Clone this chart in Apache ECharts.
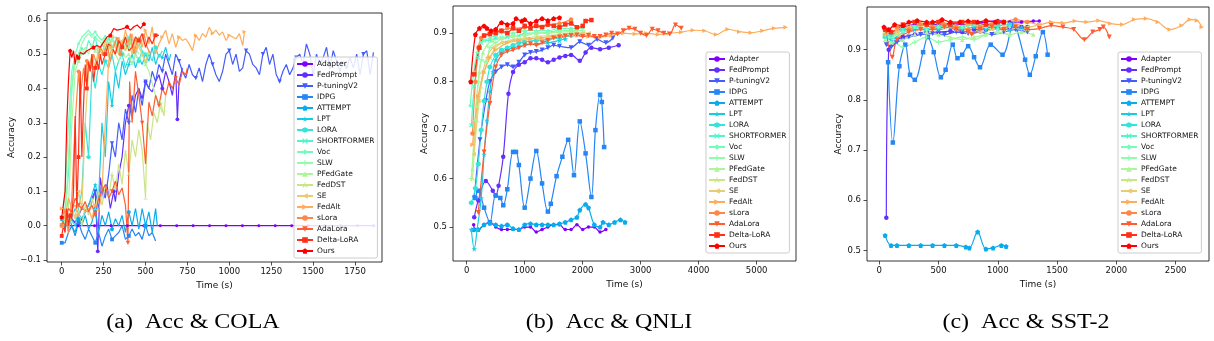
<!DOCTYPE html>
<html><head><meta charset="utf-8">
<script src="https://cdn.jsdelivr.net/npm/echarts@6/dist/echarts.min.js"></script>
<style>html,body{margin:0;padding:0;background:#fff}#c{width:1214px;height:341px}</style>
</head><body><div id="c"></div>
<script>
// ---------- labels ----------
const methods = ['Adapter','FedPrompt','P-tuningV2','IDPG','ATTEMPT','LPT','LORA','SHORTFORMER','Voc','SLW','PFedGate','FedDST','SE','FedAlt','sLora','AdaLora','Delta-LoRA','Ours'];
const captions = ['(a)  Acc & COLA','(b)  Acc & QNLI','(c)  Acc & SST-2'];
const colaXTicks = [0,250,500,750,1000,1250,1500,1750];
const colaYTicks = [-0.1,0.0,0.1,0.2,0.3,0.4,0.5,0.6];
const qnliXTicks = [0,1000,2000,3000,4000,5000];
const qnliYTicks = [0.5,0.6,0.7,0.8,0.9];
const sstXTicks = [0,500,1000,1500,2000,2500];
const sstYTicks = [0.5,0.6,0.7,0.8,0.9];

// ---------- (a) COLA ----------
const colaAdapter = [[0,0],[98,0],[196,0],[294,0],[392,0],[490,0],[588,0],[686,0],[784,0],[882,0],[980,0],[1078,0],[1176,0],[1274,0],[1372,0],[1470,0],[1568,0],[1666,0],[1764,0],[1862,0]];
const colaFedPrompt = [[0,0.0],[50,0.02],[100,0.0],[150,0.05],[200,0.1],[215,-0.075],[230,0.14],[250,0.08],[270,0.12],[290,0.05],[310,0.1],[320,0.07],[340,0.15],[360,0.2],[380,0.3],[400,0.35],[420,0.32],[440,0.38],[460,0.4],[480,0.37],[500,0.42],[520,0.4],[540,0.39],[560,0.42],[580,0.44],[600,0.4],[620,0.45],[640,0.42],[660,0.38],[680,0.45],[690,0.31],[700,0.42],[720,0.46]];
const colaPtuning = [[0,0.0],[40,0.03],[80,0.01],[120,0.05],[160,0.04],[200,0.1],[220,0.05],[240,0.12],[260,0.08],[280,0.15],[300,0.24],[320,0.2],[340,0.3],[360,0.25],[380,0.34],[400,0.3],[420,0.38],[440,0.33],[460,0.4],[480,0.35],[500,0.42],[520,0.4],[540,0.45],[560,0.42],[580,0.47],[600,0.45],[620,0.5],[640,0.47],[660,0.44],[680,0.5],[700,0.48],[720,0.45],[740,0.43],[760,0.47],[780,0.44],[800,0.43],[820,0.46],[840,0.42],[860,0.47],[880,0.5],[900,0.47],[920,0.44],[940,0.42],[960,0.45],[980,0.5],[1000,0.51],[1020,0.47],[1040,0.5],[1060,0.45],[1080,0.46],[1100,0.51],[1120,0.5],[1140,0.47],[1160,0.46],[1180,0.44],[1200,0.5],[1220,0.52],[1240,0.47],[1260,0.5],[1280,0.44],[1300,0.42],[1320,0.45],[1340,0.47],[1360,0.44],[1380,0.46],[1400,0.49],[1420,0.5],[1440,0.47],[1460,0.53],[1480,0.5],[1500,0.44],[1520,0.5],[1540,0.47],[1560,0.49],[1580,0.52],[1600,0.46],[1620,0.51],[1640,0.48],[1660,0.45],[1680,0.48],[1700,0.46],[1720,0.49],[1740,0.46],[1760,0.5],[1780,0.44],[1800,0.5],[1820,0.51],[1840,0.44],[1860,0.505]];
const colaIDPG = [[0,-0.05],[20,-0.05],[40,-0.02],[60,0.0],[80,-0.03],[100,0.01],[120,-0.02],[140,-0.04],[160,-0.01],[180,-0.03],[200,-0.05],[220,-0.02],[240,-0.06],[260,-0.03],[280,-0.01],[300,-0.04],[320,-0.03],[340,-0.02],[360,0.0],[380,-0.04],[400,-0.03],[420,-0.01],[440,-0.03],[460,-0.02],[480,-0.04],[500,0.0],[520,-0.03],[540,-0.02],[560,-0.045]];
const colaATTEMPT = [[0,0.02],[20,-0.01],[40,0.03],[60,0.0],[80,-0.02],[100,0.02],[120,0.0],[140,0.03],[160,-0.01],[180,0.01],[200,0.05],[220,-0.02],[240,0.03],[260,0.0],[280,0.04],[300,-0.01],[320,0.02],[340,0.0],[360,0.03],[380,-0.02],[400,0.04],[420,0.0],[440,0.05],[460,-0.01],[480,0.05],[500,0.0],[520,0.04],[540,-0.02],[560,0.05],[570,0.0]];
const colaLPT = [[0,0.02],[40,0.0],[80,0.05],[120,0.02],[160,0.06],[200,0.12],[220,0.08],[240,0.3],[260,0.2],[280,0.42],[300,0.35],[320,0.45],[340,0.4],[360,0.48],[380,0.44],[400,0.47],[420,0.5],[440,0.46],[460,0.49],[480,0.47],[500,0.5],[520,0.48],[540,0.52],[560,0.47],[580,0.5],[600,0.49],[620,0.52],[640,0.48],[650,0.5]];
const colaLORA = [[0,0.0],[40,0.03],[80,0.0],[120,0.1],[140,0.3],[160,0.2],[180,0.45],[200,0.4],[220,0.47],[240,0.44],[260,0.48],[280,0.46],[300,0.5],[320,0.45],[340,0.48],[360,0.5],[380,0.46],[400,0.49],[420,0.47],[440,0.5],[460,0.48],[480,0.51],[500,0.47],[520,0.5],[540,0.48],[560,0.52],[580,0.49],[600,0.51]];
const colaSHORTFORMER = [[0,0.02],[20,0.05],[40,0.15],[60,0.4],[80,0.5],[100,0.48],[120,0.52],[140,0.5],[160,0.54],[180,0.52],[200,0.55],[220,0.5],[240,0.53],[260,0.51],[280,0.55],[300,0.52],[320,0.54],[340,0.5],[360,0.53],[380,0.51],[400,0.55],[420,0.52],[440,0.5],[460,0.53],[480,0.51],[500,0.5]];
const colaVoc = [[0,0.0],[20,0.1],[40,0.3],[60,0.45],[80,0.5],[100,0.53],[120,0.55],[140,0.56],[160,0.57],[180,0.555],[200,0.565],[220,0.55],[240,0.54],[260,0.555],[280,0.53],[300,0.545],[320,0.55],[340,0.53],[360,0.54],[380,0.55],[400,0.52],[420,0.545],[440,0.53],[460,0.55],[480,0.52]];
const colaSLW = [[0,0.03],[20,0.0],[40,0.2],[60,0.4],[80,0.48],[100,0.5],[120,0.53],[140,0.55],[160,0.56],[180,0.55],[200,0.545],[220,0.54],[240,0.53],[260,0.55],[280,0.52],[300,0.54],[320,0.53],[340,0.51],[360,0.54],[380,0.52],[400,0.53],[420,0.5],[440,0.52],[460,0.5]];
const colaPFedGate = [[0,0.0],[20,0.02],[40,0.05],[60,0.3],[80,0.45],[100,0.48],[120,0.5],[140,0.52],[160,0.5],[180,0.53],[200,0.51],[220,0.52],[240,0.5],[260,0.53],[280,0.49],[300,0.52],[320,0.5],[340,0.48],[360,0.51],[380,0.49],[400,0.5],[420,0.47],[440,0.5],[460,0.48],[480,0.5],[500,0.47],[520,0.45],[560,0.38],[600,0.33]];
const colaFedDST = [[0,0.0],[20,0.03],[40,0.01],[60,0.05],[80,0.02],[100,0.04],[120,0.0],[140,0.06],[160,0.03],[180,0.08],[200,0.05],[220,0.1],[240,0.06],[260,0.12],[280,0.08],[300,0.15],[320,0.1],[340,0.18],[360,0.12],[380,0.22],[400,0.15],[420,0.25],[440,0.2],[460,0.28],[480,0.22],[500,0.08],[510,0.3],[530,0.25],[550,0.33],[570,0.3],[590,0.36],[610,0.32],[620,0.38]];
const colaSE = [[0,0.0],[20,0.03],[40,-0.02],[60,0.05],[80,0.02],[100,0.1],[120,0.05],[140,0.3],[160,0.45],[180,0.5],[200,0.46],[220,0.52],[240,0.5],[260,0.54],[280,0.51],[300,0.55],[320,0.52],[340,0.5],[360,0.54],[380,0.51],[400,0.53],[420,0.5],[440,0.55],[460,0.52],[480,0.5],[500,0.48],[520,0.51]];
const colaFedAlt = [[0,0.05],[20,0.02],[40,0.08],[60,0.05],[80,0.06],[100,0.03],[120,0.06],[140,0.04],[160,0.05],[180,0.02],[200,0.06],[220,0.04],[240,0.1],[260,0.3],[280,0.48],[300,0.52],[320,0.5],[340,0.55],[360,0.52],[380,0.57],[400,0.53],[420,0.56],[440,0.5],[460,0.55],[480,0.52],[500,0.57],[520,0.53],[540,0.58],[560,0.5],[580,0.53],[600,0.55],[620,0.57],[640,0.53],[660,0.56],[680,0.52],[700,0.55],[720,0.54],[740,0.545],[760,0.53],[780,0.51],[800,0.555],[820,0.54],[840,0.56],[860,0.55],[880,0.578],[900,0.56],[920,0.57],[940,0.555],[960,0.565],[980,0.54],[1000,0.555],[1020,0.55],[1040,0.545],[1060,0.56],[1080,0.525],[1090,0.565]];
const colaSLora = [[0,0.0],[20,0.05],[40,-0.02],[60,0.08],[80,0.3],[100,0.45],[110,0.37],[120,0.37],[130,0.46],[140,0.42],[150,0.48],[170,0.45],[190,0.5],[210,0.47],[230,0.52],[250,0.5],[270,0.53],[290,0.48],[310,0.52],[330,0.55],[350,0.5],[370,0.54],[390,0.52],[410,0.56],[430,0.5],[450,0.54],[470,0.53],[490,0.56],[510,0.52],[530,0.5]];
const colaAdaLora = [[0,0.02],[20,0.0],[40,0.05],[60,0.04],[80,0.08],[100,0.06],[120,0.05],[140,0.07],[160,0.04],[180,0.06],[200,0.03],[220,0.08],[240,0.1],[260,0.12],[280,0.08],[300,0.1],[320,0.13],[340,0.09],[360,0.11],[380,0.06],[395,-0.05],[405,0.42],[420,0.3],[440,0.45],[460,0.38],[480,0.3],[500,0.18],[520,0.36],[540,0.32],[560,0.38],[580,0.35],[600,0.4],[620,0.38],[640,0.42],[660,0.4],[680,0.43],[700,0.41],[720,0.45],[740,0.44],[750,0.46]];
const colaDeltaLoRA = [[0,-0.03],[10,0.0],[20,-0.02],[30,0.05],[40,0.0],[50,0.03],[60,0.02],[70,0.1],[80,0.32],[90,0.05],[100,0.2],[110,0.45],[120,0.2],[130,0.35],[140,0.47],[150,0.4],[160,0.48],[170,0.45],[180,0.5],[190,0.42],[200,0.46],[210,0.48],[220,0.455],[230,0.5],[240,0.47],[260,0.5],[280,0.53],[300,0.52],[320,0.5],[340,0.54],[360,0.52],[380,0.55],[400,0.51],[420,0.52],[440,0.55],[460,0.54],[480,0.56],[500,0.52],[520,0.55],[540,0.53],[560,0.555],[580,0.555]];
const colaOurs = [[0,0.025],[10,0.02],[20,0.1],[30,0.3],[40,0.42],[50,0.51],[60,0.49],[70,0.51],[80,0.47],[90,0.5],[100,0.49],[110,0.505],[130,0.5],[150,0.51],[170,0.515],[190,0.52],[210,0.525],[230,0.52],[250,0.535],[270,0.55],[290,0.555],[310,0.575],[330,0.57],[350,0.572],[370,0.575],[390,0.58],[410,0.57],[430,0.58],[450,0.585],[470,0.575],[490,0.588],[500,0.585]];

// ---------- (b) QNLI ----------
const qnliAdapter = [[120,0.505],[150,0.495],[200,0.495],[300,0.505],[400,0.51],[500,0.5],[600,0.495],[700,0.495],[800,0.495],[900,0.495],[1000,0.5],[1100,0.5],[1200,0.49],[1300,0.495],[1400,0.5],[1500,0.505],[1600,0.505],[1700,0.495],[1800,0.495],[1900,0.505],[2000,0.495],[2100,0.5],[2200,0.5],[2300,0.49],[2400,0.495]];
const qnliFedPrompt = [[130,0.52],[200,0.555],[330,0.595],[450,0.575],[500,0.565],[550,0.585],[630,0.645],[720,0.775],[800,0.82],[900,0.835],[1000,0.84],[1100,0.848],[1200,0.848],[1300,0.845],[1400,0.84],[1500,0.845],[1600,0.85],[1700,0.853],[1800,0.855],[1950,0.843],[2050,0.86],[2150,0.87],[2300,0.867],[2450,0.87],[2620,0.875]];
const qnliPtuning = [[130,0.56],[230,0.68],[330,0.76],[400,0.8],[500,0.82],[600,0.83],[700,0.835],[800,0.83],[900,0.84],[1000,0.855],[1100,0.86],[1200,0.862],[1300,0.865],[1400,0.87],[1500,0.875],[1600,0.873],[1800,0.87],[1950,0.882],[2100,0.875],[2250,0.887],[2400,0.88],[2520,0.89]];
const qnliIDPG = [[150,0.56],[200,0.575],[300,0.54],[400,0.51],[500,0.565],[580,0.56],[630,0.545],[700,0.578],[800,0.655],[850,0.655],[900,0.628],[1000,0.54],[1100,0.6],[1200,0.657],[1300,0.59],[1400,0.532],[1450,0.548],[1550,0.605],[1650,0.645],[1750,0.68],[1850,0.607],[1950,0.718],[2050,0.652],[2150,0.562],[2220,0.7],[2300,0.773],[2330,0.758],[2370,0.665]];
const qnliATTEMPT = [[120,0.495],[200,0.495],[300,0.505],[400,0.508],[500,0.505],[600,0.502],[700,0.505],[800,0.497],[900,0.495],[1000,0.505],[1100,0.507],[1200,0.505],[1300,0.505],[1400,0.505],[1500,0.505],[1600,0.507],[1700,0.51],[1800,0.515],[1900,0.52],[1950,0.535],[2050,0.547],[2100,0.54],[2200,0.505],[2300,0.5],[2350,0.51],[2450,0.505],[2550,0.51],[2650,0.515],[2730,0.51]];
const qnliLPT = [[80,0.495],[130,0.455],[180,0.495],[250,0.56],[300,0.65],[350,0.72],[400,0.78],[450,0.82],[500,0.845],[600,0.86],[700,0.865],[800,0.87],[900,0.872],[1000,0.875],[1200,0.878],[1400,0.88],[1600,0.885],[1700,0.888]];
const qnliLORA = [[80,0.55],[150,0.58],[200,0.63],[250,0.7],[300,0.76],[350,0.8],[400,0.83],[500,0.855],[600,0.865],[700,0.87],[800,0.875],[900,0.88],[1000,0.882],[1200,0.885],[1400,0.887],[1600,0.89],[1800,0.895],[2000,0.897]];
const qnliSHORTFORMER = [[80,0.71],[130,0.79],[200,0.85],[250,0.88],[300,0.885],[400,0.885],[500,0.89],[600,0.89],[700,0.892],[800,0.895],[900,0.895],[1000,0.9],[1200,0.9],[1400,0.902],[1600,0.905],[1800,0.905]];
const qnliVoc = [[60,0.75],[120,0.82],[180,0.86],[250,0.88],[300,0.885],[400,0.89],[500,0.895],[600,0.9],[800,0.9],[1000,0.905],[1200,0.905],[1400,0.905],[1600,0.91],[1800,0.91],[2000,0.91]];
const qnliSLW = [[80,0.6],[150,0.72],[200,0.8],[260,0.845],[330,0.84],[400,0.87],[500,0.88],[600,0.888],[800,0.893],[1000,0.897],[1200,0.9],[1400,0.9],[1600,0.905],[1800,0.905],[2000,0.905]];
const qnliPFedGate = [[100,0.62],[160,0.75],[220,0.82],[280,0.86],[350,0.875],[450,0.885],[600,0.89],[800,0.895],[1000,0.895],[1200,0.9],[1400,0.9],[1600,0.902],[1800,0.903],[1900,0.905]];
const qnliFedDST = [[100,0.6],[180,0.72],[250,0.79],[300,0.82],[400,0.85],[500,0.87],[600,0.88],[800,0.887],[1000,0.89],[1200,0.893],[1400,0.895],[1600,0.897],[1800,0.9],[2000,0.9]];
const qnliSE = [[120,0.65],[200,0.76],[280,0.82],[350,0.85],[450,0.87],[600,0.88],[800,0.885],[1000,0.888],[1200,0.89],[1400,0.892],[1600,0.895],[1800,0.897],[2000,0.9],[2100,0.9]];
const qnliFedAlt = [[100,0.67],[200,0.77],[300,0.82],[400,0.85],[500,0.865],[700,0.88],[900,0.885],[1100,0.888],[1300,0.89],[1500,0.893],[1700,0.895],[1900,0.895],[2100,0.893],[2300,0.892],[2500,0.895],[2700,0.9],[2900,0.898],[3100,0.9],[3300,0.897],[3500,0.9],[3700,0.902],[3900,0.906],[4100,0.905],[4300,0.897],[4500,0.908],[4700,0.903],[4900,0.901],[5100,0.905],[5300,0.91],[5500,0.912]];
const qnliSLora = [[100,0.693],[150,0.8],[200,0.87],[250,0.89],[300,0.895],[400,0.9],[500,0.905],[600,0.905],[700,0.91],[800,0.91],[1000,0.912],[1200,0.915],[1400,0.917],[1600,0.92],[1800,0.928]];
const qnliAdaLora = [[200,0.53],[300,0.655],[400,0.755],[500,0.83],[600,0.855],[700,0.862],[800,0.865],[900,0.87],[1000,0.875],[1100,0.878],[1200,0.875],[1300,0.88],[1400,0.885],[1500,0.89],[1600,0.892],[1700,0.894],[1800,0.895],[1900,0.896],[2000,0.893],[2100,0.895],[2200,0.893],[2300,0.893],[2400,0.896],[2500,0.9],[2600,0.898],[2700,0.905],[2800,0.91],[2900,0.908],[3000,0.9],[3100,0.895],[3200,0.908],[3300,0.905],[3400,0.9],[3500,0.898],[3600,0.917],[3700,0.91]];
const qnliDeltaLoRA = [[130,0.815],[220,0.87],[300,0.895],[400,0.898],[500,0.9],[600,0.905],[700,0.9],[800,0.91],[900,0.905],[1000,0.915],[1100,0.91],[1200,0.915],[1300,0.912],[1400,0.918],[1500,0.915],[1600,0.912],[1700,0.918],[1800,0.92],[1900,0.912],[2000,0.915],[2050,0.925],[2150,0.927]];
const qnliOurs = [[70,0.8],[150,0.897],[220,0.91],[300,0.915],[350,0.91],[420,0.905],[500,0.908],[600,0.922],[700,0.918],[800,0.92],[850,0.93],[950,0.925],[1000,0.928],[1100,0.92],[1200,0.925],[1300,0.93],[1400,0.926],[1500,0.93],[1600,0.932]];

// ---------- (c) SST-2 ----------
const sstAdapter = [[50,0.94],[100,0.93],[200,0.945],[300,0.95],[400,0.952],[500,0.95],[600,0.953],[700,0.95],[800,0.952],[900,0.955],[1000,0.958],[1100,0.955],[1200,0.955],[1300,0.957],[1350,0.957]];
const sstFedPrompt = [[60,0.565],[80,0.9],[120,0.915],[200,0.925],[300,0.93],[400,0.935],[500,0.935],[600,0.937],[700,0.935],[800,0.94],[900,0.94],[1000,0.942],[1100,0.945],[1200,0.945],[1250,0.945]];
const sstPtuning = [[60,0.91],[100,0.905],[150,0.915],[250,0.925],[350,0.93],[450,0.932],[550,0.93],[650,0.935],[750,0.932],[850,0.935],[950,0.93],[1050,0.935],[1150,0.94],[1250,0.935]];
const sstIDPG = [[75,0.875],[115,0.715],[170,0.867],[220,0.91],[260,0.85],[300,0.84],[370,0.895],[410,0.925],[460,0.895],[520,0.845],[560,0.86],[620,0.91],[660,0.883],[700,0.89],[750,0.907],[800,0.885],[850,0.865],[940,0.91],[1040,0.89],[1130,0.95],[1230,0.88],[1270,0.85],[1320,0.887],[1380,0.935],[1420,0.89]];
const sstATTEMPT = [[50,0.53],[100,0.51],[150,0.51],[250,0.51],[350,0.51],[450,0.51],[550,0.51],[650,0.51],[730,0.507],[760,0.505],[830,0.537],[900,0.503],[960,0.505],[1030,0.51],[1070,0.508]];
const sstLPT = [[50,0.93],[100,0.92],[200,0.935],[300,0.94],[400,0.942],[500,0.94],[600,0.945],[700,0.94],[800,0.945],[900,0.94],[1000,0.945],[1100,0.94],[1200,0.945]];
const sstLORA = [[50,0.925],[100,0.93],[200,0.94],[300,0.945],[400,0.94],[500,0.945],[600,0.948],[700,0.945],[800,0.95],[900,0.945],[1000,0.948],[1100,0.95]];
const sstSHORTFORMER = [[50,0.935],[100,0.925],[200,0.94],[300,0.945],[400,0.95],[500,0.948],[600,0.95],[700,0.945],[800,0.95],[900,0.948],[1000,0.945]];
const sstVoc = [[50,0.93],[120,0.915],[200,0.935],[300,0.945],[400,0.94],[500,0.945],[600,0.95],[700,0.945],[800,0.95],[900,0.945],[1000,0.94],[1100,0.945]];
const sstSLW = [[50,0.93],[120,0.92],[200,0.905],[300,0.915],[400,0.925],[500,0.915],[600,0.92],[700,0.925],[800,0.92],[900,0.93],[1000,0.935],[1100,0.93]];
const sstPFedGate = [[50,0.92],[100,0.915],[200,0.92],[300,0.93],[400,0.935],[500,0.93],[600,0.925],[700,0.92],[800,0.925],[900,0.93],[1000,0.935],[1100,0.93],[1200,0.935],[1300,0.93]];
const sstFedDST = [[50,0.935],[150,0.93],[250,0.94],[350,0.945],[450,0.94],[550,0.945],[650,0.94],[750,0.935],[850,0.94],[950,0.945],[1050,0.94],[1150,0.945],[1250,0.94]];
const sstSE = [[50,0.94],[150,0.935],[250,0.945],[350,0.95],[450,0.945],[550,0.95],[650,0.945],[750,0.94],[850,0.935],[950,0.94],[1050,0.945],[1150,0.95],[1250,0.945],[1350,0.95]];
const sstFedAlt = [[50,0.93],[150,0.94],[250,0.945],[350,0.95],[450,0.945],[550,0.95],[650,0.945],[750,0.95],[850,0.945],[950,0.95],[1050,0.955],[1150,0.95],[1250,0.955],[1350,0.95],[1450,0.955],[1550,0.953],[1650,0.957],[1750,0.955],[1850,0.958],[1950,0.952],[2050,0.95],[2150,0.96],[2250,0.962],[2350,0.955],[2450,0.94],[2550,0.948],[2620,0.96],[2680,0.958],[2720,0.945]];
const sstSLora = [[50,0.94],[150,0.945],[250,0.94],[350,0.95],[450,0.945],[550,0.95],[650,0.945],[750,0.94],[850,0.945],[950,0.95],[1050,0.955],[1150,0.96],[1250,0.955]];
const sstAdaLora = [[60,0.935],[110,0.885],[150,0.92],[250,0.935],[350,0.94],[450,0.94],[550,0.945],[650,0.94],[750,0.935],[780,0.93],[850,0.94],[950,0.945],[1050,0.94],[1150,0.945],[1250,0.94],[1350,0.942],[1450,0.948],[1550,0.945],[1640,0.94],[1730,0.92],[1800,0.935],[1860,0.94],[1890,0.945],[1940,0.925]];
const sstDeltaLoRA = [[50,0.94],[100,0.935],[200,0.95],[300,0.955],[400,0.95],[500,0.955],[600,0.95],[700,0.955],[800,0.955],[900,0.95],[1000,0.955],[1050,0.955]];
const sstOurs = [[40,0.945],[80,0.94],[130,0.95],[200,0.948],[250,0.955],[320,0.958],[400,0.955],[450,0.955],[530,0.96],[600,0.955],[680,0.955],[750,0.957],[830,0.955],[900,0.958],[980,0.955],[1050,0.955]];

const colaData = [colaAdapter,colaFedPrompt,colaPtuning,colaIDPG,colaATTEMPT,colaLPT,colaLORA,colaSHORTFORMER,colaVoc,colaSLW,colaPFedGate,colaFedDST,colaSE,colaFedAlt,colaSLora,colaAdaLora,colaDeltaLoRA,colaOurs];
const qnliData = [qnliAdapter,qnliFedPrompt,qnliPtuning,qnliIDPG,qnliATTEMPT,qnliLPT,qnliLORA,qnliSHORTFORMER,qnliVoc,qnliSLW,qnliPFedGate,qnliFedDST,qnliSE,qnliFedAlt,qnliSLora,qnliAdaLora,qnliDeltaLoRA,qnliOurs];
const sstData = [sstAdapter,sstFedPrompt,sstPtuning,sstIDPG,sstATTEMPT,sstLPT,sstLORA,sstSHORTFORMER,sstVoc,sstSLW,sstPFedGate,sstFedDST,sstSE,sstFedAlt,sstSLora,sstAdaLora,sstDeltaLoRA,sstOurs];

// ---------- styling ----------
function rainbow(x){
  const c = v => Math.round(Math.max(0, Math.min(1, v)) * 255);
  return 'rgb(' + c(Math.abs(2*x-0.5)) + ',' + c(Math.sin(Math.PI*x)) + ',' + c(Math.cos(Math.PI*x/2)) + ')';
}
const P = {
  dot:'circle', o:'circle', s:'rect', D:'diamond', up:'triangle',
  v:'path://M0,0L10,0L5,9Z',
  p:'path://M5,0L10,3.8L8.1,10L1.9,10L0,3.8Z',
  star:'path://M5,0L6.2,3.6L10,3.6L6.9,5.9L8.1,9.5L5,7.3L1.9,9.5L3.1,5.9L0,3.6L3.8,3.6Z',
  h:'path://M5,0L9.3,2.5L9.3,7.5L5,10L0.7,7.5L0.7,2.5Z',
  x:'path://M0,1.5L1.5,0L5,3.5L8.5,0L10,1.5L6.5,5L10,8.5L8.5,10L5,6.5L1.5,10L0,8.5L3.5,5Z',
  plus:'path://M4,0L6,0L6,4L10,4L10,6L6,6L6,10L4,10L4,6L0,6L0,4L4,4Z',
  left:'path://M0,5L9,0L9,10Z',
  right:'path://M10,5L1,0L1,10Z',
  tri:'path://M4.2,0L5.8,0L5.8,5L10,8.6L9,10L5,6.6L1,10L0,8.6L4.2,5Z'
};
const markers = ['dot','o','v','s','p','star','h','x','D','plus','up','tri','left','right','o','v','s','p'];
const msize =   [3.5,4.5,5,4.5,5,5.5,5,4.5,4,5,4.5,5,4.5,4.5,4.5,5,4.5,5];
const colors = methods.map((m,i) => rainbow(i/(methods.length-1)));
const font = 'DejaVu Sans';

const grids = [
  {left:47, top:13, width:335, height:249},
  {left:453, top:6, width:343, height:255},
  {left:867, top:7, width:342, height:254}
];
const xr = [[-88,1911],[-236,5678],[-103,2781]];
const yr = [[-0.106,0.62],[0.43,0.956],[0.479,0.985]];
const xt = [colaXTicks, qnliXTicks, sstXTicks];
const yt = [colaYTicks, qnliYTicks, sstYTicks];
const yGap = [30,23,23];
const every = [5,1,1];
const panels = [colaData, qnliData, sstData];

const fmtY = v => { const s = (Math.round(v*10)/10).toFixed(1); return s.replace('-','\u2212'); };
const fmtX = v => String(Math.round(v));

const xAxis = [], yAxis = [], series = [], legend = [];
for (let p=0;p<3;p++){
  xAxis.push({type:'value', gridIndex:p, min:xr[p][0], max:xr[p][1],
    name:'Time (s)', nameLocation:'middle', nameGap:17,
    nameTextStyle:{fontFamily:font, fontSize:9, color:'#111'},
    axisLine:{show:false, onZero:false}, splitLine:{show:false},
    axisTick:{show:true, length:3.5, lineStyle:{color:'#222', width:0.8}, customValues:xt[p]},
    axisLabel:{fontFamily:font, fontSize:8.5, color:'#111', margin:5, customValues:xt[p], formatter:fmtX}});
  yAxis.push({type:'value', gridIndex:p, min:yr[p][0], max:yr[p][1],
    name:'Accuracy', nameLocation:'middle', nameGap:yGap[p], nameRotate:90,
    nameTextStyle:{fontFamily:font, fontSize:9, color:'#111'},
    axisLine:{show:false, onZero:false}, splitLine:{show:false},
    axisTick:{show:true, length:3.5, lineStyle:{color:'#222', width:0.8}, customValues:yt[p]},
    axisLabel:{fontFamily:font, fontSize:8.5, color:'#111', margin:6, customValues:yt[p], formatter:fmtY}});
  panels[p].forEach((d,i) => {
    const ev = (p===0 && i===0) ? 1 : every[p];
    const sz = msize[i] * (p===0 ? 0.85 : 1);
    series.push({type:'line', name:methods[i], xAxisIndex:p, yAxisIndex:p, data:d,
      smooth: p===0 ? false : 0.35, showAllSymbol:true, symbol:P[markers[i]],
      symbolSize:(val, prm) => (prm.dataIndex % ev === 0 ? sz : 0),
      lineStyle:{color:colors[i], width:1.2}, itemStyle:{color:colors[i]},
      emphasis:{disabled:true}, silent:true, clip:true, animation:false});
  });
}
const legPos = [{left:294, top:57},{left:706, top:52},{left:1118, top:52}];
for (let p=0;p<3;p++){
  legend.push(Object.assign({orient:'vertical', data:methods, itemWidth:16, itemHeight:7, itemGap:3.0,
    padding:[3,3,3,2], backgroundColor:'rgba(255,255,255,0.85)', borderColor:'#cccccc', borderWidth:1, borderRadius:2,
    selectedMode:false, textStyle:{fontFamily:font, fontSize:7.5, color:'#111', padding:[0,0,0,-1]}}, legPos[p]));
}
const capX = [193, 609, 1026];
const graphic = captions.map((t,i) => ({type:'text', x:capX[i], y:323, scaleX:1.2,
  style:{text:t, font:'20px "Liberation Serif"', fill:'#000', align:'center', verticalAlign:'middle'}}));

const chart = echarts.init(document.getElementById('c'), null, {renderer:'canvas'});
chart.setOption({
  animation:false,
  grid: grids.map(g => Object.assign({show:true, borderColor:'#000', borderWidth:0.8, backgroundColor:'transparent'}, g)),
  xAxis, yAxis, series, legend, graphic
});
</script></body></html>
